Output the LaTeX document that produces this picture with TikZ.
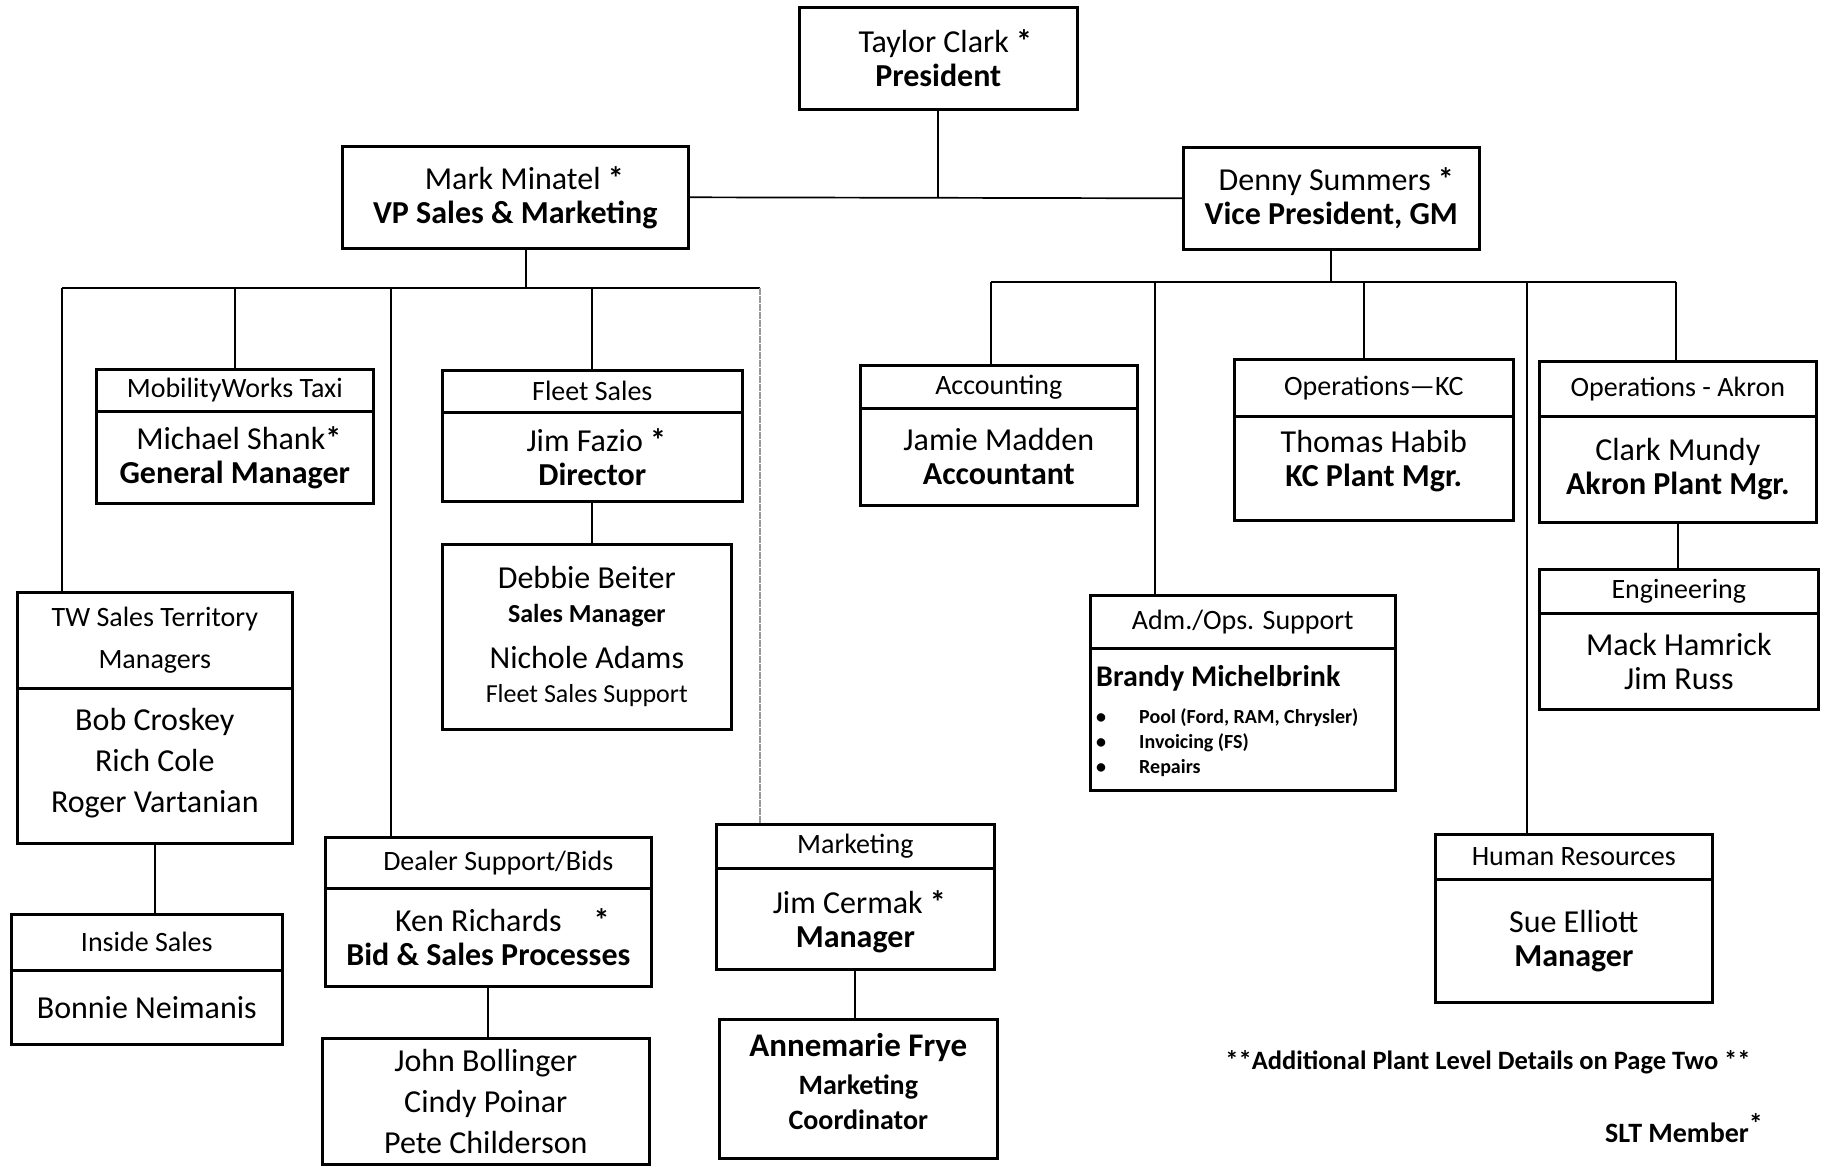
\documentclass[tikz,border=0pt]{standalone}
\usepackage{fontspec}
\setmainfont{Carlito}
\newcommand\nmfont{\fontsize{32}{34}\selectfont}
\newcommand\hdfont{\fontsize{28}{42}\selectfont}
\newcommand\smfont{\fontsize{26}{30}\selectfont}
\newcommand\sltstar{\textbf{*}}
\begin{document}
\begin{tikzpicture}[x=1pt,y=-1pt,
  box/.style={draw, line width=2.6pt, inner sep=0pt, align=center, anchor=north west, font=\nmfont},
  hd/.style={box, font=\hdfont},
  conn/.style={line width=1.7pt},
  faint/.style={line width=2.4pt, draw=black!40, dash pattern=on 7pt off 1pt}]
\fill[white] (0,0) rectangle (1822,1165);
\useasboundingbox (0,0) rectangle (1822,1165);

% top level
\node[box, minimum width=278pt, minimum height=102pt] (taylor) at (798,6) {\hspace{14pt}Taylor Clark \sltstar\\\textbf{President}};
\node[box, minimum width=346pt, minimum height=102pt] (mark) at (341,145) {\hspace{18pt}Mark Minatel \sltstar\\\textbf{VP Sales \& Marketing}};
\node[box, minimum width=296pt, minimum height=102pt] (denny) at (1182,146) {\hspace{10pt}Denny Summers \sltstar\\\textbf{Vice President, GM}};

% sales side
\node[hd, minimum width=277pt, minimum height=42pt] (mobH) at (95,368) {MobilityWorks Taxi};
\node[box, minimum width=277pt, minimum height=92pt] (mobB) at (95,410) {\hspace{8pt}Michael Shank\sltstar\\\textbf{General Manager}};

\node[hd, minimum width=300pt, minimum height=42pt] (fleetH) at (441,369) {Fleet Sales};
\node[box, minimum width=300pt, minimum height=89pt] (fleetB) at (441,411) {\hspace{8pt}Jim Fazio \sltstar\\\textbf{Director}};

\node[box, minimum width=289pt, minimum height=185pt] (debbie) at (441,543) {Debbie Beiter\\{\smfont\bfseries Sales Manager}\\[12pt]Nichole Adams\\{\smfont Fleet Sales Support}};

\node[hd, minimum width=275pt, minimum height=96pt] (twH) at (16,591) {TW Sales Territory\\Managers};
\node[box, minimum width=275pt, minimum height=155pt, font=\fontsize{32}{41}\selectfont, text depth=10pt] (twB) at (16,687) {Bob Croskey\\Rich Cole\\Roger Vartanian};

\node[hd, minimum width=271pt, minimum height=56pt] (inH) at (10,913) {Inside Sales};
\node[box, minimum width=271pt, minimum height=74pt] (inB) at (10,969) {Bonnie Neimanis};

\node[hd, minimum width=326pt, minimum height=51pt] (dealH) at (324,836) {\hspace{20pt}Dealer Support/Bids};
\node[box, minimum width=326pt, minimum height=98pt] (dealB) at (324,887) {\hspace{28pt}Ken Richards\quad\sltstar\\\textbf{Bid \& Sales Processes}};

\node[box, minimum width=327pt, minimum height=126pt, font=\fontsize{32}{41}\selectfont] (john) at (321,1037) {John Bollinger\\Cindy Poinar\\Pete Childerson};

\node[hd, minimum width=278pt, minimum height=44pt] (mktH) at (715,823) {Marketing};
\node[box, minimum width=278pt, minimum height=101pt, text depth=0pt] (mktB) at (715,867) {\hspace{8pt}Jim Cermak \sltstar\\\textbf{Manager}};

\node[box, minimum width=278pt, minimum height=139pt, font=\fontsize{28}{35}\selectfont\bfseries, text depth=14pt] (anne) at (718,1018) {{\fontsize{33}{38}\selectfont Annemarie Frye}\\[3pt]Marketing\\Coordinator};

% operations side
\node[hd, minimum width=277pt, minimum height=43pt] (acctH) at (859,364) {Accounting};
\node[box, minimum width=277pt, minimum height=97pt] (acctB) at (859,407) {Jamie Madden\\\textbf{Accountant}};

\node[hd, minimum width=305pt, minimum height=53pt] (admH) at (1089,594) {Adm./Ops. Support};
\node[box, minimum width=305pt, minimum height=142pt] (admB) at (1089,647) {};
\node[anchor=north west, inner sep=0pt, align=left, font=\fontsize{20}{25}\selectfont\bfseries] (admT) at (1096,665)
  {{\fontsize{30}{34}\selectfont Brandy Michelbrink}\\[12pt]
   \makebox[43pt][l]{\textbullet}Pool (Ford, RAM, Chrysler)\\
   \makebox[43pt][l]{\textbullet}Invoicing (FS)\\
   \makebox[43pt][l]{\textbullet}Repairs};

\node[hd, minimum width=279pt, minimum height=57pt] (kcH) at (1233,358) {Operations—KC};
\node[box, minimum width=279pt, minimum height=104pt, text depth=20pt] (kcB) at (1233,415) {Thomas Habib\\\textbf{KC Plant Mgr.}};

\node[hd, minimum width=277pt, minimum height=55pt] (akH) at (1538,360) {Operations - Akron};
\node[box, minimum width=277pt, minimum height=106pt] (akB) at (1538,415) {Clark Mundy\\\textbf{Akron Plant Mgr.}};

\node[hd, minimum width=279pt, minimum height=44pt] (engH) at (1538,568) {Engineering};
\node[box, minimum width=279pt, minimum height=96pt] (engB) at (1538,612) {Mack Hamrick\\Jim Russ};

\node[hd, minimum width=277pt, minimum height=45pt] (hrH) at (1434,833) {Human Resources};
\node[box, minimum width=277pt, minimum height=123pt] (hrB) at (1434,878) {Sue Elliott\\\textbf{Manager}};

% notes
\node[font=\fontsize{26.5}{30}\selectfont\bfseries] (note) at (1488,1062) {**Additional Plant Level Details on Page Two **};
\node[font=\fontsize{28}{30}\selectfont\bfseries] (slt) at (1684,1128) {SLT Member\raisebox{9pt}{*}};

% bus coordinates
\coordinate (mbL) at (62,288);
\coordinate (mbM) at (526,288);
\coordinate (mbD) at (391,288);
\coordinate (mbR) at (760,288);
\coordinate (dbL) at (991,282);
\coordinate (dbM) at (1331,282);
\coordinate (dbA) at (1155,282);
\coordinate (dbK) at (1364,282);
\coordinate (dbH) at (1527,282);
\coordinate (dbR) at (1676,282);

% connectors top
\draw[conn] (taylor.south) -- (taylor.south |- mark.east);
\draw[conn] (mark.east) -- (denny.west);

% sales bus
\draw[conn] (mbM |- mark.south) -- (mbM);
\draw[conn] (mbL) -- (mbR);
\draw[conn] (mbL) -- (mbL |- twH.north);
\draw[conn] (mobH.north |- mbL) -- (mobH.north);
\draw[conn] (mbD) -- (mbD |- dealH.north);
\draw[conn] (fleetH.north |- mbL) -- (fleetH.north);
\draw[faint] (mbR) -- (mbR |- mktH.north);
\draw[conn] (fleetB.south) -- (fleetB.south |- debbie.north);
\draw[conn] (twB.south) -- (twB.south |- inH.north);
\draw[conn] (dealB.south) -- (dealB.south |- john.north);
\draw[conn] (mktB.south) -- (mktB.south |- anne.north);

% operations bus
\draw[conn] (dbM |- denny.south) -- (dbM);
\draw[conn] (dbL) -- (dbR);
\draw[conn] (dbL) -- (dbL |- acctH.north);
\draw[conn] (dbA) -- (dbA |- admH.north);
\draw[conn] (dbK) -- (dbK |- kcH.north);
\draw[conn] (dbH) -- (dbH |- hrH.north);
\draw[conn] (dbR) -- (dbR |- akH.north);
\draw[conn] (akB.south) -- (akB.south |- engH.north);
\end{tikzpicture}
\end{document}
